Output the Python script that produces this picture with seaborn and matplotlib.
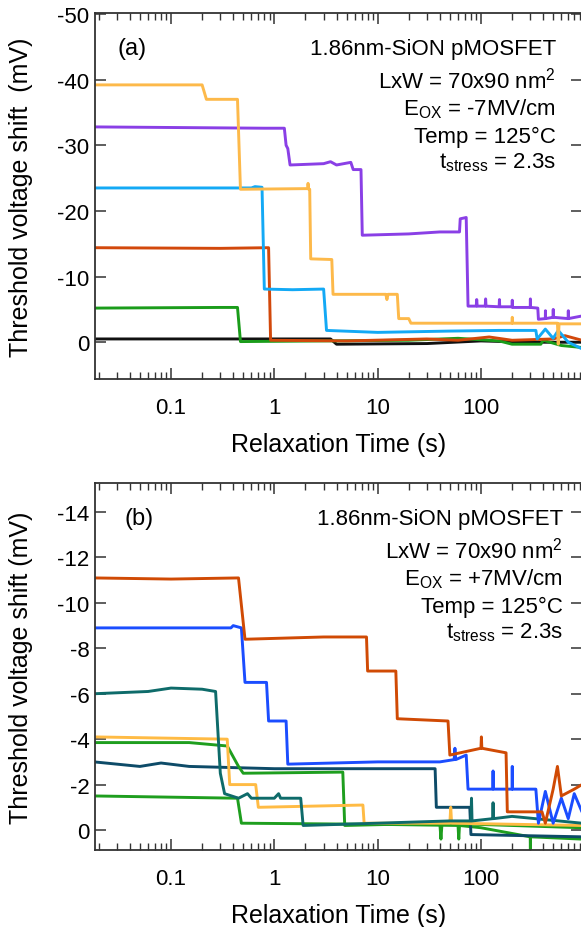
import matplotlib
matplotlib.use("Agg")
import matplotlib.pyplot as plt
import matplotlib.ticker as mticker
import seaborn as sns

# ---- panel (a): Eox = -7 MV/cm, time (s) vs Vth shift (mV) ----
a_black_t = [0.018, 1.0, 3.5, 4.0, 30, 100, 300, 950]
a_black_v = [-0.5, -0.5, -0.5, 0.3, 0.2, -0.2, 0.0, 0.0]

a_green_t = [0.018, 0.3, 0.44, 0.47, 20, 60, 150, 200, 380, 400, 600, 950]
a_green_v = [-5.2, -5.3, -5.3, -0.1, -0.3, -0.6, -0.2, 0.3, 0.3, -0.3, 0.5, 0.8]

a_red_t = [0.018, 0.3, 0.88, 0.92, 5, 30, 60, 120, 200, 500, 650, 950]
a_red_v = [-14.4, -14.3, -14.4, -0.3, -0.2, -0.5, -0.3, -0.8, -0.3, -0.5, -1.0, -0.3]

a_blue_t = [0.018, 0.6, 0.65, 0.76, 0.80, 1.5, 3.0, 3.2, 10, 50, 150, 340, 350, 420, 500, 560, 700, 950]
a_blue_v = [-23.5, -23.5, -23.7, -23.6, -8.1, -8.0, -8.1, -1.8, -1.5, -1.7, -1.8, -1.8, -0.5, -2.0, -0.6, -1.8, 0.0, 1.0]

a_purple_t = [0.018, 0.8, 1.25, 1.3, 1.35, 1.42, 3.0, 3.5, 4.0, 5.5, 5.8, 6.9, 7.1, 20, 40, 62, 63, 72,
              75, 90, 91, 92, 110, 111, 112, 150, 151, 152, 200, 201, 202, 300, 301, 302, 355, 360,
              420, 421, 422, 500, 501, 502, 700, 701, 702, 950]
a_purple_v = [-32.8, -32.6, -32.6, -30.0, -29.5, -27.0, -27.2, -27.5, -27.0, -27.4, -26.3, -26.3, -16.3, -16.5, -16.8, -16.8, -18.8, -19.0,
              -5.5, -5.5, -6.5, -5.5, -5.5, -6.6, -5.5, -5.4, -6.5, -5.4, -5.4, -6.4, -5.3, -5.3, -6.6, -5.3, -5.2, -3.5,
              -3.6, -4.8, -3.6, -3.8, -5.0, -3.8, -3.6, -4.8, -3.6, -4.0]

a_yellow_t = [0.018, 0.20, 0.22, 0.44, 0.47, 2.1, 2.12, 2.15, 2.2, 2.25, 3.6, 3.7, 12, 12.3, 12.6, 15.5, 16, 20, 21,
              200, 201, 202, 550, 560, 570, 950]
a_yellow_v = [-39.2, -39.2, -37.0, -37.0, -23.3, -23.4, -24.2, -23.3, -23.3, -12.7, -12.6, -7.3, -7.3, -6.5, -7.3, -7.3, -3.6, -3.6, -2.9,
              -2.9, -3.8, -2.9, -2.9, 0.3, -2.8, -2.8]

# ---- panel (b): Eox = +7 MV/cm ----
b_green2_t = [0.018, 0.44, 0.48, 10, 60, 61, 62, 100, 300, 301, 302, 950]
b_green2_v = [-1.5, -1.4, -0.3, -0.25, -0.2, 0.4, -0.2, -0.1, 0.3, 0.9, 0.3, 0.4]

b_dkblue_t = [0.018, 0.05, 0.08, 0.15, 1.0, 36, 37, 78, 80, 950]
b_dkblue_v = [-3.0, -2.8, -2.95, -2.8, -2.7, -2.7, -1.0, -1.0, 0.2, 0.3]

b_green1_t = [0.018, 0.15, 0.35, 0.45, 0.5, 4.6, 4.8, 40, 41, 42, 950]
b_green1_v = [-3.85, -3.85, -3.7, -2.8, -2.5, -2.55, -0.2, -0.3, 0.4, -0.3, -0.1]

b_yellow_t = [0.018, 0.35, 0.37, 0.66, 0.70, 7.2, 7.4, 50, 51, 52, 950]
b_yellow_v = [-4.1, -4.0, -2.0, -2.0, -1.0, -1.1, -0.3, -0.3, -1.0, -0.3, -0.2]

b_teal_t = [0.018, 0.06, 0.1, 0.2, 0.27, 0.30, 0.33, 0.45, 0.55, 0.6, 1.0, 1.1, 1.15, 1.8, 1.9, 10, 50,
            80, 81, 82, 130, 131, 132, 200, 950]
b_teal_v = [-6.0, -6.1, -6.25, -6.2, -6.1, -2.5, -1.6, -1.4, -1.6, -1.4, -1.4, -1.6, -1.4, -1.4, -0.2, -0.3, -0.4,
            -0.4, -1.4, -0.4, -0.5, -1.2, -0.5, -0.6, -0.3]

b_blue_t = [0.018, 0.38, 0.40, 0.48, 0.52, 0.84, 0.88, 1.3, 1.35, 10, 40, 55, 56, 57, 72, 75, 130, 131, 132,
            200, 201, 202, 340, 360, 420, 500, 600, 700, 800, 950]
b_blue_v = [-8.9, -8.9, -9.0, -8.9, -6.5, -6.5, -4.8, -4.8, -2.9, -3.0, -3.0, -3.1, -3.6, -3.1, -3.3, -1.8, -1.8, -2.6, -1.8,
            -1.8, -2.8, -1.8, -1.8, -0.3, -1.7, -0.3, -1.4, -0.5, -1.6, -0.8]

b_red_t = [0.018, 0.1, 0.45, 0.52, 3, 7.8, 8.0, 15, 15.5, 48, 50, 100, 101, 102, 175, 180, 390, 420, 500, 550, 600, 800, 950]
b_red_v = [-11.1, -11.05, -11.1, -8.4, -8.5, -8.5, -7.0, -7.0, -4.9, -4.8, -3.3, -3.6, -4.1, -3.6, -3.4, -0.8, -0.8, -0.3,
           -1.8, -2.8, -1.5, -1.8, -2.0]

a_series = [(a_black_t, a_black_v, "#111111"), (a_green_t, a_green_v, "#1A9C1A"),
            (a_red_t, a_red_v, "#D2480B"), (a_blue_t, a_blue_v, "#13A9F5"),
            (a_purple_t, a_purple_v, "#8A3FE6"), (a_yellow_t, a_yellow_v, "#FDB94A")]
b_series = [(b_green2_t, b_green2_v, "#1E9E1E"), (b_dkblue_t, b_dkblue_v, "#0D4B68"),
            (b_green1_t, b_green1_v, "#1E9E1E"), (b_yellow_t, b_yellow_v, "#FFBB44"),
            (b_teal_t, b_teal_v, "#0E6B6A"), (b_blue_t, b_blue_v, "#1B4DFF"),
            (b_red_t, b_red_v, "#D04A04")]

sns.set_style("ticks")
plt.rcParams["font.family"] = ["Liberation Sans", "DejaVu Sans"]
plt.rcParams["mathtext.fontset"] = "custom"
plt.rcParams["mathtext.rm"] = "Liberation Sans"
plt.rcParams["mathtext.it"] = "Liberation Sans"
plt.rcParams["axes.unicode_minus"] = False
plt.rcParams["text.color"] = "black"
plt.rcParams["axes.labelcolor"] = "black"
plt.rcParams["xtick.labelcolor"] = "black"
plt.rcParams["ytick.labelcolor"] = "black"

fig = plt.figure(figsize=(5.81, 9.28), dpi=100)
W, H = 581, 928
ax_a = fig.add_axes([95 / W, 1 - 380 / H, 487 / W, 366 / H])
ax_b = fig.add_axes([95 / W, 1 - 851 / H, 487 / W, 367 / H])

panels = [
    (ax_a, a_series, (5.6, -50.15), [0, -10, -20, -30, -40, -50], "(a)", "-7MV/cm",
     "Threshold voltage shift  (mV)", 0.9466, 0.047),
    (ax_b, b_series, (0.88, -15.28), [0, -2, -4, -6, -8, -10, -12, -14], "(b)", "+7MV/cm",
     "Threshold voltage shift (mV)", 0.961, 0.06),
]

for ax, series, ylim, yticks, tag, eox, ylab, xr, xtag in panels:
    ax.set_xscale("log")
    for t, v, c in series:
        sns.lineplot(x=t, y=v, color=c, lw=2.1, ax=ax, estimator=None, sort=False, legend=False)
    ax.set_xlim(0.01837, 951)
    ax.set_ylim(*ylim)
    ax.set_xticks([0.1, 1, 10, 100])
    ax.set_xticklabels(["0.1", "1", "10", "100"])
    ax.xaxis.set_minor_locator(mticker.LogLocator(base=10, subs=range(2, 10), numticks=20))
    ax.xaxis.set_minor_formatter(mticker.NullFormatter())
    ax.set_yticks(yticks)
    ax.set_yticklabels([str(y) for y in yticks])
    ax.tick_params(axis="both", which="major", direction="in", length=8, width=1.1,
                   labelsize=16, top=True, right=True, color="#333333")
    ax.tick_params(axis="x", which="major", pad=13)
    ax.tick_params(axis="y", which="major", pad=4)
    ax.tick_params(axis="x", which="minor", direction="in", length=5, width=1.0,
                   top=True, color="#333333")
    for s in ["left", "top", "bottom"]:
        ax.spines[s].set_color("#333333")
        ax.spines[s].set_linewidth(1.3)
    ax.spines["right"].set_visible(False)

    ax.set_xlabel("Relaxation Time (s)", fontsize=18)
    ax.set_ylabel(ylab, fontsize=18)
    ax.xaxis.set_label_coords(0.5, -0.145)
    ax.yaxis.set_label_coords(-0.127, 0.5)

    ax.text(xtag, 0.888, tag, transform=ax.transAxes, fontsize=17, ha="left", va="baseline")
    lines = ["1.86nm-SiON pMOSFET",
             r"LxW = 70x90 nm$^{2}$",
             r"E$_{\mathrm{OX}}$ = " + eox,
             "Temp = 125°C",
             r"t$_{\mathrm{stress}}$ = 2.3s"]
    for txt, yb in zip(lines, [0.888, 0.796, 0.724, 0.648, 0.579]):
        ax.text(xr, yb, txt, transform=ax.transAxes, fontsize=16, ha="right", va="baseline")

fig.savefig("out.png", dpi=100)
